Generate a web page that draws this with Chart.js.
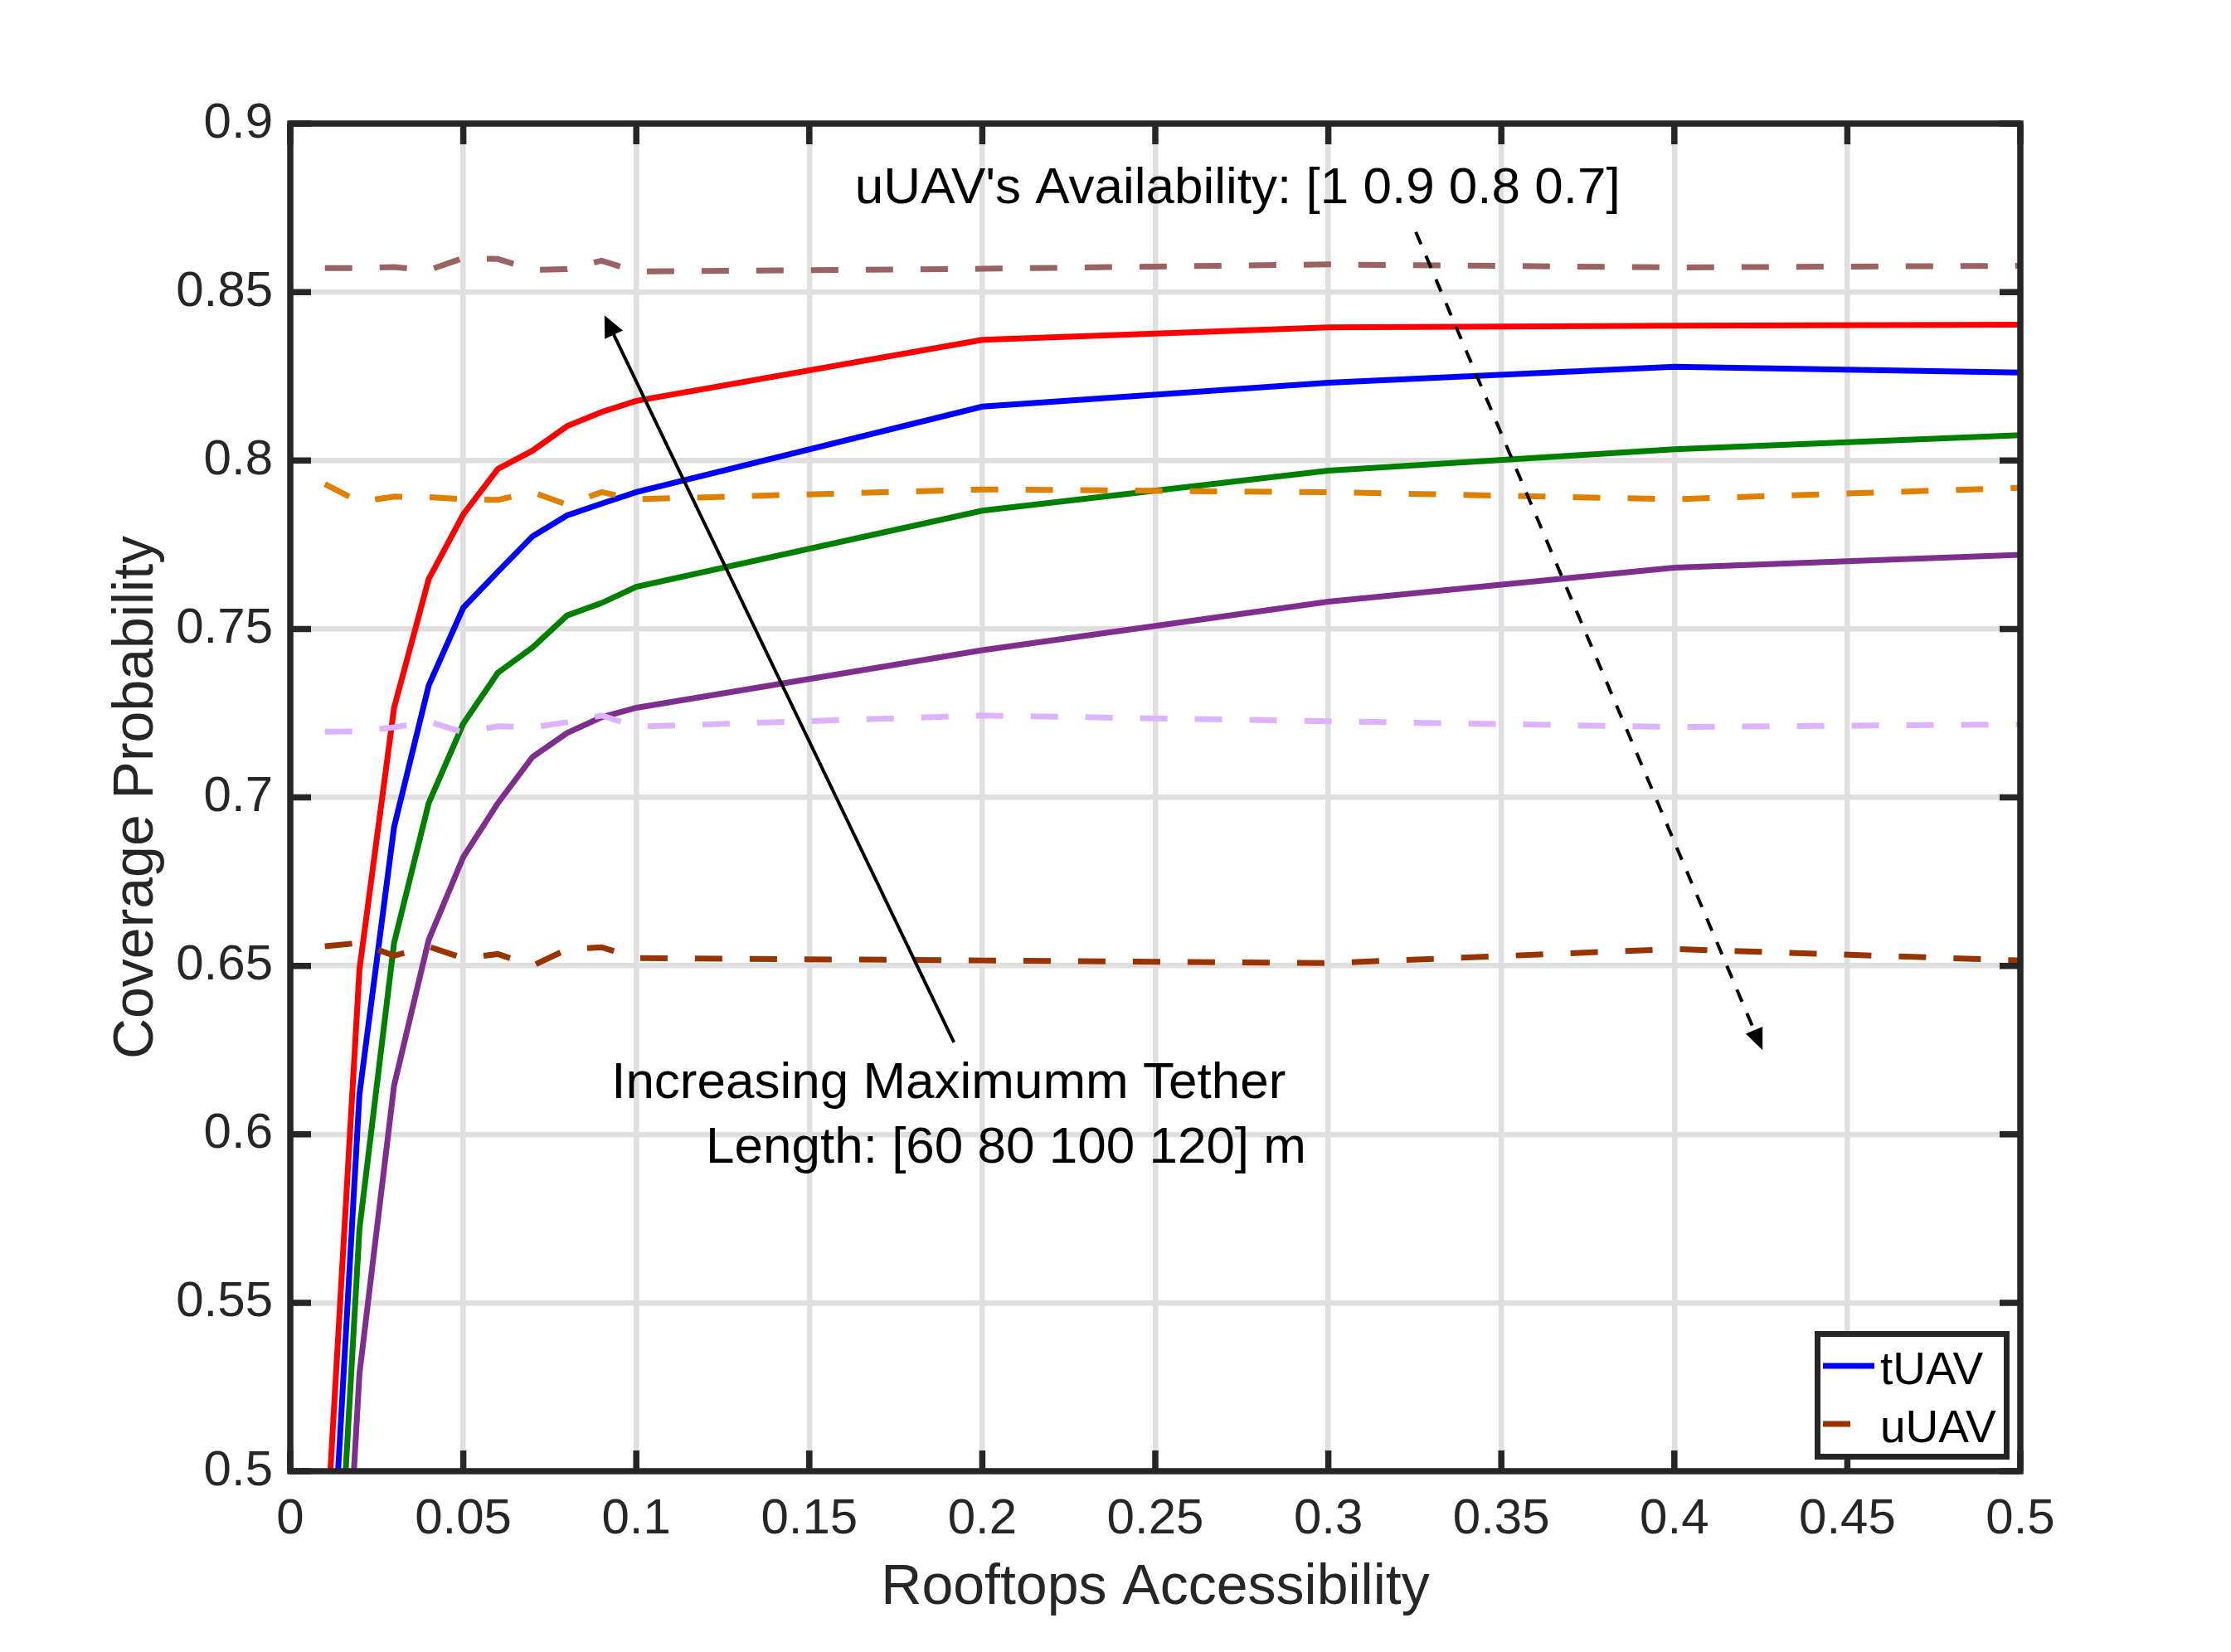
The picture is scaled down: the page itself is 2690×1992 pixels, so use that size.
<!DOCTYPE html>
<html>
<head>
<meta charset="utf-8">
<title>Coverage Probability vs Rooftops Accessibility</title>
<script src="https://cdn.jsdelivr.net/npm/chart.js@4.4.1/dist/chart.umd.min.js"></script>
<style>
    html, body { margin: 0; padding: 0; background: #ffffff; }
    #wrap { width: 2690px; height: 1992px; }
</style>
</head>
<body>
<div id="wrap"><canvas id="coverageChart" width="2690" height="1992"></canvas></div>
<script>
// x values: rooftops accessibility
const accessibility = [0.01, 0.02, 0.03, 0.04, 0.05, 0.06, 0.07, 0.08, 0.09, 0.1, 0.2, 0.3, 0.4, 0.5];

// tUAV coverage, max tether length 60 / 80 / 100 / 120 m
const tuav60 = [0.350, 0.529, 0.6145, 0.6577, 0.6823, 0.6983, 0.7120, 0.7191, 0.7238, 0.7266, 0.7437, 0.7581, 0.7682, 0.7720];
const tuav80 = [0.392, 0.572, 0.6568, 0.6983, 0.7219, 0.7370, 0.7445, 0.7540, 0.7577, 0.7625, 0.7851, 0.7970, 0.8033, 0.8075];
const tuav100 = [0.431, 0.612, 0.6912, 0.7332, 0.7563, 0.7670, 0.7775, 0.7837, 0.7872, 0.7906, 0.8160, 0.8231, 0.8278, 0.8261];
const tuav120 = [0.472, 0.649, 0.7266, 0.7648, 0.7840, 0.7975, 0.8029, 0.8102, 0.8144, 0.8177, 0.8358, 0.8395, 0.8400, 0.8403];

// uUAV coverage, availability 1 / 0.9 / 0.8 / 0.7
const uuav10 = [0.8571, 0.8571, 0.8574, 0.8565, 0.8601, 0.8598, 0.8566, 0.8568, 0.8593, 0.8561, 0.8569, 0.8582, 0.8573, 0.8578];
const uuav09 = [0.7930, 0.7877, 0.7893, 0.7891, 0.7885, 0.7883, 0.7906, 0.7869, 0.7906, 0.7885, 0.7914, 0.7906, 0.7885, 0.7919];
const uuav08 = [0.7195, 0.7196, 0.7208, 0.7225, 0.7193, 0.7211, 0.7208, 0.7223, 0.7243, 0.7210, 0.7243, 0.7226, 0.7209, 0.7217];
const uuav07 = [0.6558, 0.6568, 0.6530, 0.6557, 0.6523, 0.6535, 0.6500, 0.6549, 0.6555, 0.6523, 0.6516, 0.6508, 0.6550, 0.6516];

// axis ticks
const xTicks = [0, 0.05, 0.1, 0.15, 0.2, 0.25, 0.3, 0.35, 0.4, 0.45, 0.5];
const xTickLabels = ['0', '0.05', '0.1', '0.15', '0.2', '0.25', '0.3', '0.35', '0.4', '0.45', '0.5'];
const yTicks = [0.5, 0.55, 0.6, 0.65, 0.7, 0.75, 0.8, 0.85, 0.9];
const yTickLabels = ['0.5', '0.55', '0.6', '0.65', '0.7', '0.75', '0.8', '0.85', '0.9'];

const legendLabels = ['tUAV', 'uUAV'];

const FONT = "'Liberation Sans', Arial, Helvetica, sans-serif";
const AXIS_COLOR = '#262626';
const DASH = [33, 33];

const toPoints = (ys) => accessibility.map((x, i) => ({ x: x, y: ys[i] }));

const solid = (label, ys, color) => ({
    label: label, data: toPoints(ys), borderColor: color, borderWidth: 7,
    pointRadius: 0, tension: 0, fill: false, clip: 0
});
const dashed = (label, ys, color) => ({
    label: label, data: toPoints(ys), borderColor: color, borderWidth: 7,
    borderDash: DASH, borderCapStyle: 'butt',
    pointRadius: 0, tension: 0, fill: false, clip: 0
});

// Annotations: arrows, free text, legend box, and the MATLAB-style axes box
const decorations = {
    id: 'decorations',
    afterDatasetsDraw(chart) {
        const { ctx, chartArea: a, scales: { x, y } } = chart;
        const px = (v) => x.getPixelForValue(v);
        const py = (v) => y.getPixelForValue(v);
        ctx.save();

        // arrows
        const arrow = (x0, y0, x1, y1, dash, headLen, headW) => {
            const X0 = px(x0), Y0 = py(y0), X1 = px(x1), Y1 = py(y1);
            const ang = Math.atan2(Y1 - Y0, X1 - X0);
            const bx = X1 - headLen * Math.cos(ang), by = Y1 - headLen * Math.sin(ang);
            ctx.strokeStyle = '#000'; ctx.fillStyle = '#000'; ctx.lineWidth = 4;
            ctx.setLineDash(dash);
            ctx.beginPath(); ctx.moveTo(X0, Y0); ctx.lineTo(bx, by); ctx.stroke();
            ctx.setLineDash([]);
            const nx = -Math.sin(ang) * headW / 2, ny = Math.cos(ang) * headW / 2;
            ctx.beginPath();
            ctx.moveTo(X1, Y1); ctx.lineTo(bx + nx, by + ny); ctx.lineTo(bx - nx, by - ny);
            ctx.closePath(); ctx.fill();
        };
        arrow(0.1918, 0.6273, 0.0908, 0.8431, [], 26, 24);
        arrow(0.3253, 0.8678, 0.4255, 0.6250, [16, 15], 26, 22);

        // free text
        ctx.fillStyle = '#000';
        ctx.font = '62px ' + FONT;
        ctx.textAlign = 'left';
        ctx.textBaseline = 'alphabetic';
        ctx.fillText("uUAV's Availability: [1 0.9 0.8 0.7]", px(0.1632), py(0.8764));
        ctx.fillText('Increasing Maximumm Tether', px(0.0928), py(0.6108));
        ctx.fillText('Length: [60 80 100 120] m', px(0.1201), py(0.5916));

        // inner tick marks on all four sides
        ctx.strokeStyle = AXIS_COLOR;
        ctx.lineWidth = 7.5;
        ctx.beginPath();
        xTicks.forEach(v => {
            const p = px(v);
            ctx.moveTo(p, a.bottom); ctx.lineTo(p, a.bottom - 25);
            ctx.moveTo(p, a.top); ctx.lineTo(p, a.top + 25);
        });
        yTicks.forEach(v => {
            const p = py(v);
            ctx.moveTo(a.left, p); ctx.lineTo(a.left + 25, p);
            ctx.moveTo(a.right, p); ctx.lineTo(a.right - 25, p);
        });
        ctx.stroke();
        ctx.strokeRect(a.left, a.top, a.right - a.left, a.bottom - a.top);

        // legend
        const lx1 = a.right - 248, lx2 = a.right - 13;
        const ly1 = a.bottom - 169, ly2 = a.bottom - 14;
        ctx.fillStyle = '#fff';
        ctx.fillRect(lx1, ly1, lx2 - lx1, ly2 - ly1);
        ctx.lineWidth = 7;
        ctx.strokeStyle = AXIS_COLOR;
        ctx.strokeRect(lx1 + 3.5, ly1 + 3.5, lx2 - lx1 - 7, ly2 - ly1 - 7);
        const entries = [chart.data.datasets[5], chart.data.datasets[3]];
        const rows = [42, 112];
        ctx.font = '55px ' + FONT;
        entries.forEach((ds, i) => {
            const ly = ly1 + rows[i];
            ctx.strokeStyle = ds.borderColor;
            ctx.lineWidth = 7;
            ctx.lineCap = 'butt';
            ctx.setLineDash(ds.borderDash || []);
            ctx.beginPath(); ctx.moveTo(lx1 + 10, ly); ctx.lineTo(lx1 + 72, ly); ctx.stroke();
            ctx.setLineDash([]);
            ctx.fillStyle = '#000';
            ctx.fillText(legendLabels[i], lx1 + 79, ly + 22);
        });

        ctx.restore();
    }
};

new Chart(document.getElementById('coverageChart'), {
    type: 'line',
    data: {
        datasets: [
            // dashed uUAV curves first so they sit on top
            dashed('uUAV 1', uuav10, '#9B6262'),
            dashed('uUAV 0.9', uuav09, '#E08000'),
            dashed('uUAV 0.8', uuav08, '#DDB3FF'),
            dashed('uUAV 0.7', uuav07, '#993300'),
            solid('tUAV 120 m', tuav120, '#FF0000'),
            solid('tUAV 100 m', tuav100, '#0000FF'),
            solid('tUAV 80 m', tuav80, '#008000'),
            solid('tUAV 60 m', tuav60, '#7E2F8E')
        ]
    },
    options: {
        responsive: false,
        animation: false,
        devicePixelRatio: 1,
        layout: { padding: { top: 149, right: 254, left: 0, bottom: 0 } },
        plugins: {
            legend: { display: false },
            tooltip: { enabled: false }
        },
        scales: {
            x: {
                type: 'linear', min: 0, max: 0.5,
                afterBuildTicks: (s) => { s.ticks = xTicks.map(v => ({ value: v })); },
                afterFit: (s) => { s.height = 218; },
                grid: { color: '#DFDFDF', lineWidth: 6.5, drawTicks: false },
                border: { display: false },
                ticks: {
                    autoSkip: false, maxRotation: 0, padding: 22, color: AXIS_COLOR,
                    font: { family: FONT, size: 60 },
                    callback: (v, i) => xTickLabels[i]
                },
                title: {
                    display: true, text: 'Rooftops Accessibility', color: AXIS_COLOR,
                    font: { family: FONT, size: 68 }, padding: { top: 0, bottom: 36 }
                }
            },
            y: {
                type: 'linear', min: 0.5, max: 0.9,
                afterBuildTicks: (s) => { s.ticks = yTicks.map(v => ({ value: v })); },
                afterFit: (s) => { s.width = 350; },
                grid: { color: '#DFDFDF', lineWidth: 6.5, drawTicks: false },
                border: { display: false },
                ticks: {
                    autoSkip: false, padding: 21, color: AXIS_COLOR,
                    font: { family: FONT, size: 60 },
                    callback: (v, i) => yTickLabels[i]
                },
                title: {
                    display: true, text: 'Coverage Probability', color: AXIS_COLOR,
                    font: { family: FONT, size: 68 }, padding: { top: 124, bottom: 0 }
                }
            }
        }
    },
    plugins: [decorations]
});
</script>
</body>
</html>
